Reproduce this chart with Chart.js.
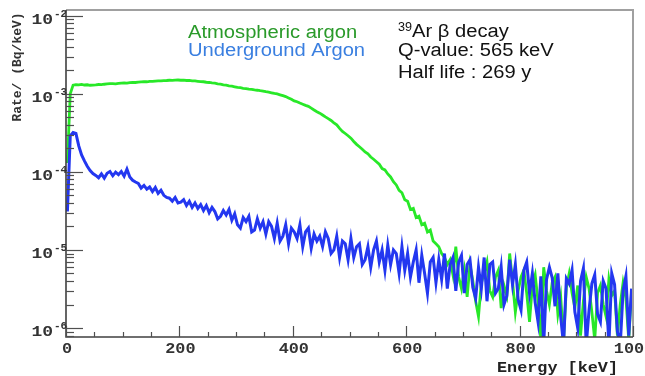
<!DOCTYPE html>
<html>
<head>
<meta charset="utf-8">
<script src="https://cdn.jsdelivr.net/npm/chart.js@4.4.1/dist/chart.umd.min.js"></script>
<style>
  body { margin: 0; background: #fff; }
  canvas { display: block; }
</style>
</head>
<body>
<canvas id="spectrum" width="645" height="376"></canvas>
<script>
// 39Ar beta spectrum, 5 keV bins, rates in units of 1e-6 Bq/keV
const binWidth = 5;

const atmospheric = [
  130, 1000, 1290, 1310, 1300, 1320, 1295, 1305, 1285, 1290,
  1300, 1315, 1310, 1325, 1335, 1345, 1350, 1340, 1360, 1370,
  1375, 1370, 1390, 1400, 1395, 1410, 1420, 1430, 1425, 1445,
  1440, 1455, 1465, 1460, 1475, 1480, 1490, 1485, 1495, 1500,
  1490, 1495, 1480, 1485, 1465, 1460, 1445, 1430, 1425, 1405,
  1395, 1375, 1365, 1340, 1330, 1300, 1290, 1265, 1250, 1230,
  1210, 1195, 1175, 1165, 1145, 1135, 1120, 1110, 1095, 1085,
  1065, 1050, 1030, 1010, 995, 970, 945, 920, 885, 850,
  810, 790, 760, 735, 710, 690, 655, 620, 590, 565,
  535, 505, 480, 455, 425, 400, 360, 330, 310, 290,
  270, 245, 225, 210, 195, 180, 170, 155, 145, 135,
  125, 110, 106, 94, 86, 75, 68, 58, 54, 44,
  42, 33, 34, 26, 27, 21, 22, 17, 18, 13,
  12, 11, 9, 8, 6.5, 7.5, 4.8, 11, 4.5, 3.2,
  5.5, 2.5, 6.5, 4, 2.2, 1.4, 3.8, 5, 7, 3,
  2.5, 4.5, 5.5, 1.8, 3.5, 2.6, 9, 4, 1.6, 3,
  4.5, 5.5, 2.8, 1.2, 3.5, 4.8, 2.2, 0.7, 6, 3,
  2, 3.8, 4.5, 1.5, 2.5, 0.7, 3.3, 5, 2.8, 1.8,
  3.5, 0.8, 2.2, 4.5, 3.2, 1.6, 0.7, 2.8, 3.5, 2,
  1.4, 4.2, 2.6, 3, 0.8, 2, 3.8, 2.4, 0.7, 3
];

const underground = [
  31, 290, 320, 310, 215, 165, 138, 118, 104, 95,
  90, 84, 94, 83, 96, 101, 89, 99, 92, 101,
  88, 108, 86, 78, 74, 71, 62, 67, 60, 64,
  56, 63, 53, 58, 50, 47, 46, 42, 47, 40,
  41, 44, 37, 42, 35, 40, 34, 38, 32, 37,
  30, 35, 31, 25, 27, 32, 28, 33, 24, 29,
  21, 19, 26, 23, 27, 17, 18, 25, 19, 23,
  16, 23, 20, 14, 22, 13, 15, 21, 12, 19,
  17, 14, 21, 11, 17, 19, 10.5, 16, 13, 15,
  11, 17, 14, 9, 10, 15, 8, 13, 12, 7.5,
  14, 8, 11, 12, 6.5, 7.5, 11, 6, 10, 13,
  7, 10, 5.5, 11.5, 6.5, 10, 9, 5, 11, 5.5,
  9, 4.5, 7, 10, 3.8, 8.5, 5, 2.8, 7, 8,
  3.8, 7.5, 4.2, 9, 3.2, 6.5, 8, 3, 7, 8.5,
  2.8, 6.5, 7.5, 3.3, 2.4, 6, 3.2, 8, 2.2, 6.5,
  7, 2.8, 3.2, 6, 2, 2.6, 7.5, 3.6, 6.5, 2.3,
  1.7, 5.5, 7, 2.8, 5, 2.1, 1.2, 4.6, 0.6, 4.2,
  6, 4.4, 1.9, 5, 1.4, 0.6, 4.3, 3.7, 5.5, 1.6,
  1, 4, 5.8, 0.6, 1.7, 3.7, 4.8, 1.5, 1.2, 4,
  3.2, 0.6, 5, 3.6, 0.9, 0.6, 3, 4.6, 0.8, 3.2
];

const xTicks = [0, 200, 400, 600, 800, 1000];
const yDecades = [-6, -5, -4, -3, -2];

// bin centres in keV
const energy = underground.map((_, i) => binWidth * (i + 0.5));
const toPoints = arr => arr.map((v, i) => ({ x: energy[i], y: v * 1e-6 }));

function stretchedText(ctx, str, x, y, font, color, align, sx) {
  ctx.save();
  ctx.font = font;
  ctx.fillStyle = color;
  ctx.textAlign = align || 'left';
  ctx.textBaseline = 'alphabetic';
  ctx.translate(x, y);
  ctx.scale(sx || 1, 1);
  ctx.fillText(str, 0, 0);
  ctx.restore();
}

// ROOT-like frame, inward ticks and labels
const rootFrame = {
  id: 'rootFrame',
  afterDatasetsDraw(chart) {
    const ctx = chart.ctx;
    const { left, right, top, bottom } = chart.chartArea;
    const xs = chart.scales.x, ys = chart.scales.y;
    ctx.save();
    // frame
    ctx.strokeStyle = '#a0a0a0';
    ctx.lineWidth = 2;
    ctx.beginPath();
    ctx.moveTo(left, top); ctx.lineTo(right, top); ctx.lineTo(right, bottom);
    ctx.stroke();
    ctx.strokeStyle = '#404040';
    ctx.lineWidth = 1.6;
    ctx.beginPath();
    ctx.moveTo(left, top); ctx.lineTo(left, bottom); ctx.lineTo(right, bottom);
    ctx.stroke();

    // y ticks
    ctx.lineWidth = 1.2;
    ctx.strokeStyle = '#505050';
    for (let k = -7; k <= -2; k++) {
      for (let m = 1; m <= 9; m++) {
        const v = m * Math.pow(10, k);
        if (v < ys.min || v > ys.max) continue;
        const py = Math.round(ys.getPixelForValue(v)) + 0.5;
        const len = m === 1 ? 17 : 8;
        ctx.beginPath(); ctx.moveTo(left, py); ctx.lineTo(left + len, py); ctx.stroke();
      }
    }
    // x ticks
    for (let e = 0; e <= 1000; e += 50) {
      const px = Math.round(xs.getPixelForValue(e)) + 0.5;
      const len = e % 200 === 0 ? 11 : 5;
      ctx.beginPath(); ctx.moveTo(px, bottom); ctx.lineTo(px, bottom - len); ctx.stroke();
    }
    ctx.restore();
  },
  afterDraw(chart) {
    const ctx = chart.ctx;
    const { bottom } = chart.chartArea;
    const xs = chart.scales.x, ys = chart.scales.y;
    const mono = '"Liberation Mono", "DejaVu Sans Mono", monospace';
    const sans = '"Liberation Sans", Arial, sans-serif';

    xTicks.forEach(t => {
      stretchedText(ctx, String(t), xs.getPixelForValue(t) + 1, bottom + 16,
        'bold 15px ' + mono, '#333', 'center', 1.12);
    });
    yDecades.forEach(k => {
      const py = ys.getPixelForValue(Math.pow(10, k));
      stretchedText(ctx, '10', 53, py + 8, 'bold 15px ' + mono, '#333', 'right', 1.2);
      stretchedText(ctx, String(k), 54, py + 1, 'bold 10px ' + mono, '#333', 'left', 1.1);
    });

    // axis titles
    ctx.save();
    ctx.translate(21, 67);
    ctx.rotate(-Math.PI / 2);
    ctx.font = 'bold 13px ' + mono;
    ctx.fillStyle = '#333';
    ctx.textAlign = 'center';
    ctx.fillText('Rate/ (Bq/keV)', 0, 0);
    ctx.restore();
    stretchedText(ctx, 'Energy [keV]', 618, 372, 'bold 15px ' + mono, '#222', 'right', 1.12);

    // legend texts
    stretchedText(ctx, 'Atmospheric argon', 188, 38, '18px ' + sans, '#2a9a2a', 'left', 1.12);
    stretchedText(ctx, 'Underground Argon', 188, 56, '18px ' + sans, '#3a7fe0', 'left', 1.12);

    // decay info
    stretchedText(ctx, '39', 398, 31, '12px ' + sans, '#111', 'left', 1.05);
    stretchedText(ctx, 'Ar β decay', 412, 37, '18px ' + sans, '#111', 'left', 1.12);
    stretchedText(ctx, 'Q-value: 565 keV', 398, 56, '18px ' + sans, '#111', 'left', 1.12);
    stretchedText(ctx, 'Half life : 269 y', 398, 78, '18px ' + sans, '#111', 'left', 1.12);
  }
};

new Chart(document.getElementById('spectrum'), {
  type: 'line',
  data: {
    datasets: [
      {
        label: 'Underground Argon',
        data: toPoints(underground),
        borderColor: 'rgb(35, 55, 240)',
        borderWidth: 3,
        pointRadius: 0,
        tension: 0,
        clip: 0
      },
      {
        label: 'Atmospheric argon',
        data: toPoints(atmospheric),
        borderColor: 'rgb(40, 232, 40)',
        borderWidth: 2.8,
        pointRadius: 0,
        tension: 0,
        clip: 0
      }
    ]
  },
  options: {
    responsive: false,
    animation: false,
    devicePixelRatio: 1,
    layout: { padding: { left: 66, right: 12, top: 10, bottom: 39 } },
    plugins: { legend: { display: false }, tooltip: { enabled: false } },
    scales: {
      x: { type: 'linear', min: 0, max: 1000, display: false },
      y: { type: 'logarithmic', min: 7.67e-7, max: 1.183e-2, display: false }
    }
  },
  plugins: [rootFrame]
});
</script>
</body>
</html>
